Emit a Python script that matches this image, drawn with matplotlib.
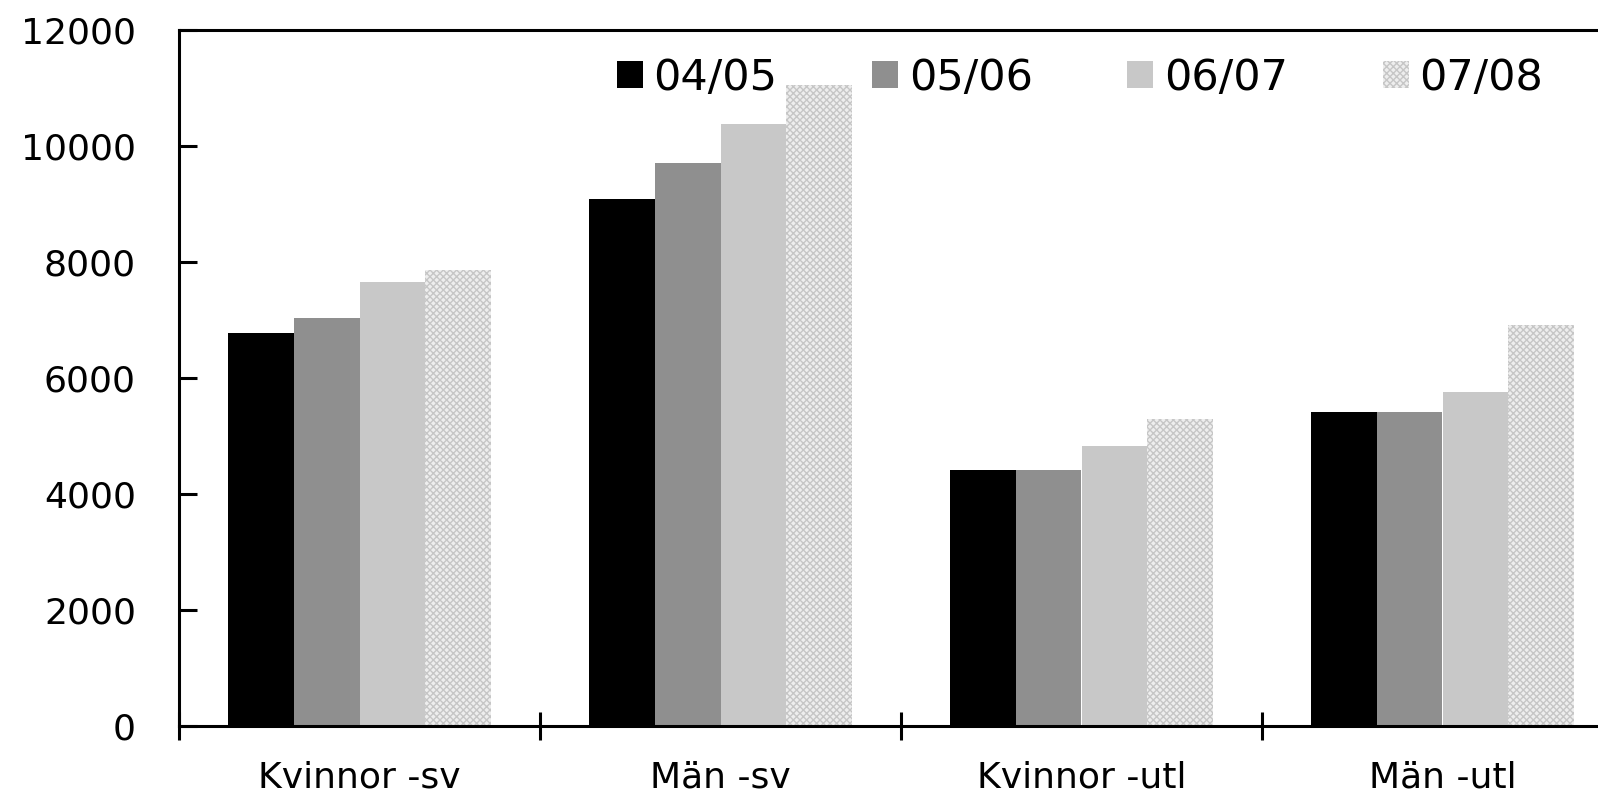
import matplotlib
matplotlib.use("Agg")
import matplotlib.pyplot as plt
import numpy as np

categories = ["Kvinnor -sv", "Män -sv", "Kvinnor -utl", "Män -utl"]
series_labels = ["04/05", "05/06", "06/07", "07/08"]
v0405 = [6780, 9090, 4410, 5420]
v0506 = [7040, 9700, 4410, 5420]
v0607 = [7660, 10380, 4820, 5760]
v0708 = [7870, 11050, 5290, 6910]
y_ticks = [0, 2000, 4000, 6000, 8000, 10000, 12000]

plt.rcParams['hatch.linewidth'] = 1.0
fig = plt.figure(figsize=(15.98, 7.94), dpi=100)
ax = fig.add_axes([179/1598, 68/794, 1444/1598, 696/794])

series = [v0405, v0506, v0607, v0708]
colors = ["#000000", "#8f8f8f", "#c8c8c8", "#eeeeee"]
w = 0.182
x = np.arange(len(categories)) + 0.5
for i, (vals, c, lab) in enumerate(zip(series, colors, series_labels)):
    if i == 3:
        kw = dict(hatch="xxxxx", edgecolor="#c6c6c6", linewidth=0)
    else:
        kw = dict(edgecolor=c, linewidth=0)
    ax.bar(x + (i - 1.5) * w, vals, w, color=c, label=lab, **kw)

ax.set_xlim(0, 4)
ax.set_ylim(0, 12000)
ax.set_yticks(y_ticks)
ax.set_yticklabels([str(t) for t in y_ticks])
ax.tick_params(axis='y', direction='in', length=13, width=2.2, labelsize=26, pad=31)
ax.set_xticks([0, 1, 2, 3, 4])
ax.set_xticklabels([])
ax.set_xticks(x, minor=True)
ax.set_xticklabels(categories, minor=True)
ax.tick_params(axis='x', which='major', direction='inout', length=20, width=2.2)
ax.tick_params(axis='x', which='minor', length=0, labelsize=26, pad=25)
for s in ax.spines.values():
    s.set_linewidth(2.2)

leg = fig.legend(loc='center', bbox_to_anchor=(1080/1598, 1 - 78/794), ncol=4,
                 frameon=False, fontsize=31, handlelength=0.6, handleheight=0.6,
                 handletextpad=0.25, columnspacing=2.2)

fig.savefig("out.png", dpi=100)
